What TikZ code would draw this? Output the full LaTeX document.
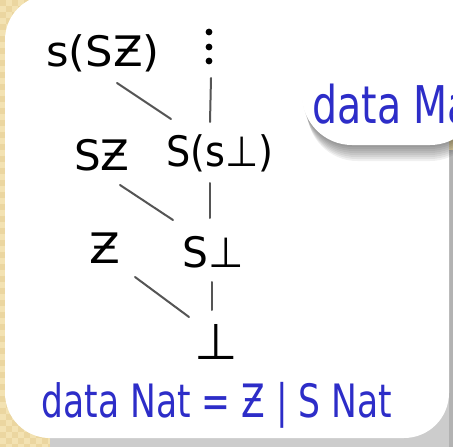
\documentclass[tikz,border=0pt]{standalone}
\usepackage{fontspec}
\setmainfont{DejaVu Sans}
\usetikzlibrary{calc}
\definecolor{beige}{RGB}{243,226,178}
\definecolor{beigedark}{RGB}{235,214,160}
\definecolor{inkblue}{RGB}{45,45,200}
\definecolor{linegray}{RGB}{85,85,85}
\begin{document}
\begin{tikzpicture}[x=1pt,y=-1pt,
  lbl/.style={inner sep=0pt, font=\fontsize{42}{44}\selectfont, text=black},
  conn/.style={draw=linegray, line width=2pt, line cap=round},
  bluetext/.style={inner sep=0pt, text=inkblue}]
\useasboundingbox (0,0) rectangle (453,447);
\clip (0,0) rectangle (453,447);
% background
\fill[beige] (0,0) rectangle (453,447);
\foreach \i in {0,...,9}{\foreach \j in {0,...,74}{
  \pgfmathtruncatemacro\k{mod(\i+\j,2)}
  \ifnum\k=0 \fill[beigedark] (\i*6,\j*6) rectangle ++(6,6); \fi}}
% main card shadow
\fill[gray!40] (50,150) rectangle (453,447);
\fill[gray!60] (449,150) rectangle (453,447);
% main card
\fill[white, rounded corners=45pt] (5,-5) rectangle (449,438);
% second card shadow and card
\foreach \d in {2,4,...,16}
  \fill[black, opacity=0.06, rounded corners=50pt] (302+\d/3,-60+\d) rectangle (480,145+\d);
\fill[white, rounded corners=50pt] (302,-60) rectangle (480,145);
% labels
\node[lbl] (a) at (103,53) {\scalebox{1.03}[1]{s(SƵ)}};
\node[inner sep=0pt, minimum width=8pt, minimum height=36pt] (dots) at (209,47) {};
\foreach \dy in {-15,0,14} \fill ($(dots.center)+(0,\dy)$) circle (3.4pt);
\node[lbl] (b) at (102,155) {SƵ};
\node[lbl] (c) at (220,153) {\scalebox{0.91}[1]{S(s⊥)}};
\node[lbl] (d) at (105,248) {\scalebox{1.07}[1]{Ƶ}};
\node[lbl] (e) at (213,252) {\scalebox{0.97}[1]{S⊥}};
\node[lbl, font=\fontsize{50}{52}\selectfont] (f) at (216,342) {⊥};
% connectors
\draw[conn] ($(a.center)+(14,30)$) -- ($(c.center)+(-49,-34)$);
\draw[conn] ($(dots.center)+(2,31)$) -- ($(c.center)+(-10,-31)$);
\draw[conn] ($(b.center)+(18,30)$) -- ($(e.center)+(-40,-32)$);
\draw[conn] ($(c.center)+(-10,30)$) -- ($(e.center)+(-3,-34)$);
\draw[conn] ($(d.center)+(30,29)$) -- ($(f.center)+(-27,-25)$);
\draw[conn] ($(e.center)+(-1,30)$) -- ($(f.center)+(-4,-32)$);
% blue texts
\node[bluetext, anchor=base, font=\fontsize{46}{48}\selectfont] (g) at (217,417) {\scalebox{0.75}[1]{data Nat = Ƶ | S Nat}};
\node[bluetext, anchor=base west, font=\fontsize{52}{54}\selectfont] (h) at (312,123) {\scalebox{0.76}[1]{data Ma}};
\end{tikzpicture}
\end{document}
